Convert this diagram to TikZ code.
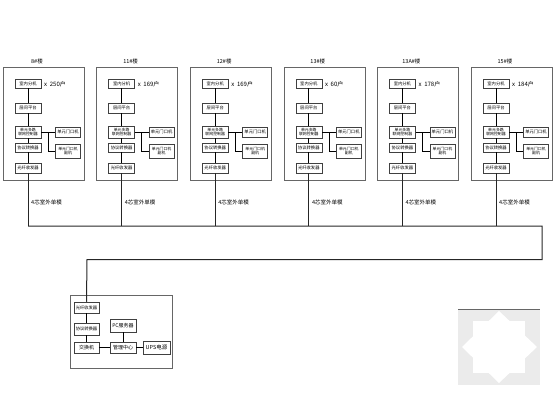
\documentclass[tikz,border=0pt]{standalone}
\usepackage{fontspec}
\setmainfont{Noto Sans CJK SC}
\begin{document}
\begin{tikzpicture}[x=1pt,y=-1pt,
  box/.style={draw=black!75, line width=0.5pt, minimum width=26pt, minimum height=9pt,
    inner sep=0pt, font=\fontsize{4.3}{5}\selectfont, align=center},
  outerbox/.style={draw=black!60, line width=0.5pt, inner sep=0pt},
  conn/.style={draw=black, line width=0.9pt},
  thin conn/.style={draw=black, line width=0.6pt},
  trunk/.style={draw=black!85, line width=1pt},
  lbl/.style={font=\fontsize{5.5}{6}\selectfont, inner sep=0pt},
  cnt/.style={font=\fontsize{6}{7}\selectfont, inner sep=0pt, anchor=west}]
\useasboundingbox (0,0) rectangle (560,420);
\foreach \i/\T/\lab/\num in {1/28/8/250,2/121.6/11/169,3/215.2/12/169,4/308.8/13/60,5/402.4/13A/178,6/496/15/184}{
  \node[outerbox, minimum width=81pt, minimum height=113pt] (o\i) at (\T+15.5,123.5) {};
  \node[lbl] (l\i) at (\T+9,61) {\lab\#楼};
  \node[box] (a\i) at (\T,83.5) {室内分机};
  \node[cnt] (n\i) at (\T+16,84) {x\ \ \num 户};
  \node[box, minimum height=10pt] (b\i) at (\T,108) {层间平台};
  \node[box, minimum height=12pt, font=\fontsize{3.9}{4.2}\selectfont] (c\i) at (\T,132) {单元多路\\联网控制器};
  \node[box] (d\i) at (\T,147.5) {协议转换器};
  \node[box, minimum height=10pt] (f\i) at (\T,168) {光纤收发器};
  \node[box, minimum width=25pt, minimum height=10pt] (g\i) at (\T+40,132) {单元门口机};
  \node[box, minimum width=25pt, minimum height=14pt, font=\fontsize{3.9}{4.2}\selectfont] (h\i) at (\T+40,151) {单元门口机\\副机};
  \coordinate (j\i) at (\T+20,132);
  \draw[conn] (a\i) -- (b\i);
  \draw[conn] (b\i) -- (c\i);
  \draw[conn] (c\i) -- (d\i);
  \draw[conn] (d\i) -- (f\i);
  \draw[thin conn] (c\i.east) -- (g\i.west);
  \draw[thin conn] (j\i) |- (h\i.west);
  \coordinate (t\i) at (\T,226);
  \draw[trunk] (f\i) -- (t\i);
  \node[lbl, anchor=west] (m\i) at (\T+3,202) {4芯室外单模};
}
% control room
\node[outerbox, minimum width=102pt, minimum height=73pt] (room) at (121,331.5) {};
\node[box, minimum width=25pt, minimum height=11pt] (cf) at (86.5,307.5) {光纤收发器};
\node[box, minimum width=25pt, minimum height=12pt] (cp) at (86.5,329) {协议转换器};
\node[box, minimum width=25pt, minimum height=11pt, font=\fontsize{5}{6}\selectfont] (cs) at (86.5,347.5) {交换机};
\node[box, minimum width=26pt, minimum height=13pt, font=\fontsize{5}{6}\selectfont] (pc) at (123,325.5) {PC服务器};
\node[box, minimum width=26pt, minimum height=11pt, font=\fontsize{5}{6}\selectfont] (mg) at (123,347.5) {管理中心};
\node[box, minimum width=27pt, minimum height=13pt, font=\fontsize{5.5}{6}\selectfont] (ups) at (156.5,347.5) {UPS电源};
\draw[conn] (cf) -- (cp);
\draw[conn] (cp) -- (cs);
\draw[thin conn] (cs) -- (mg);
\draw[thin conn] (pc) -- (mg);
\draw[thin conn] (mg) -- (ups);
% bus
\coordinate (busR) at (542,226);
\coordinate (bend) at (542,259.5);
\coordinate (drop) at (87,259.5);
\draw[trunk] (t1) -- (busR) -- (bend) -- (drop) -- (cf.north);
% faint watermark mark
\fill[black!8] (458,309) rectangle (540,385);
\fill[white] (499,311) -- (537,347) -- (499,383) -- (462,347) -- cycle;
\fill[white] (473,321) rectangle (525,373);
\draw[black!60, line width=0.8pt] (458,309) -- (540,309);
\end{tikzpicture}
\end{document}
